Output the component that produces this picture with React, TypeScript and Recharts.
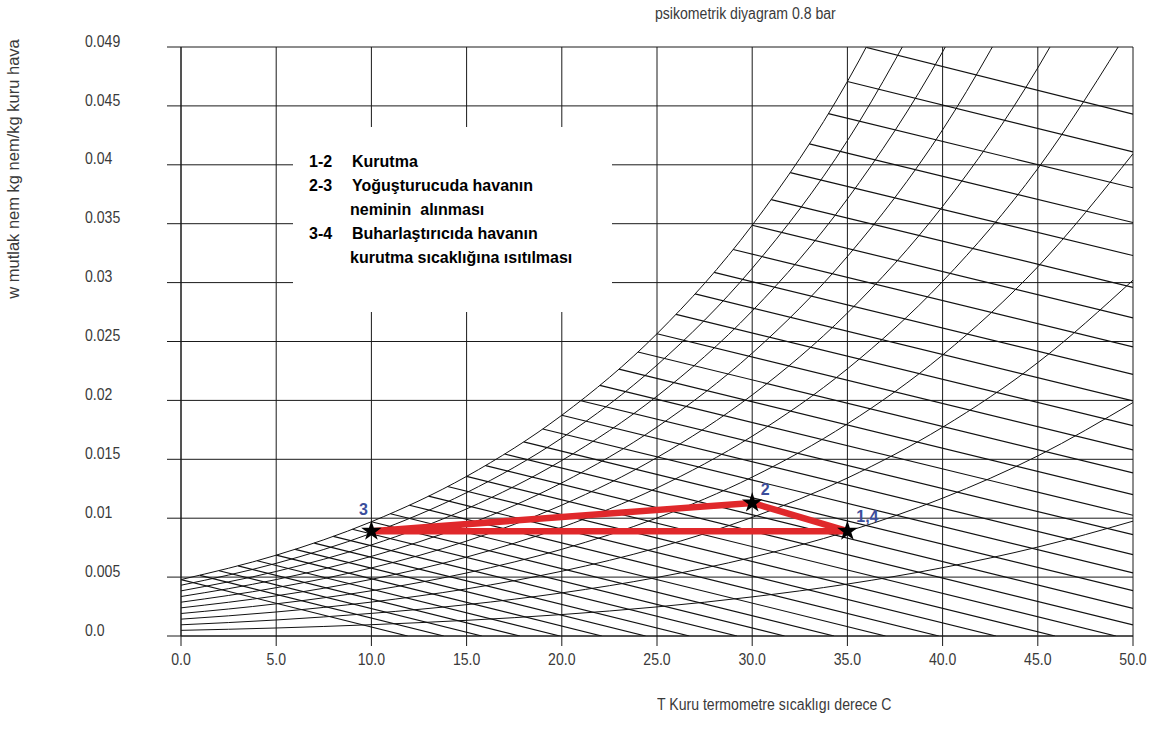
import {
  ComposedChart,
  Line,
  Scatter,
  XAxis,
  YAxis,
  CartesianGrid,
  Symbols,
} from 'recharts';

// axes
const tempTicks = [0, 5, 10, 15, 20, 25, 30, 35, 40, 45, 50];
const tempTickLabels = ['0.0', '5.0', '10.0', '15.0', '20.0', '25.0', '30.0', '35.0', '40.0', '45.0', '50.0'];
const wTicks = [0, 0.005, 0.01, 0.015, 0.02, 0.025, 0.03, 0.035, 0.04, 0.045, 0.05];
const wTickLabels = ['0.0', '0.005', '0.01', '0.015', '0.02', '0.025', '0.03', '0.035', '0.04', '0.045', '0.049'];

// relative humidity curves (100% .. 10%), w read at tempTicks
const rh100 = [0.00479, 0.00686, 0.0097, 0.01355, 0.01874, 0.02566, 0.03487, 0.04707, 0.06325];
const rh90 = [0.00431, 0.00617, 0.00872, 0.01217, 0.01681, 0.023, 0.03121, 0.04205, 0.05635];
const rh80 = [0.00383, 0.00548, 0.00773, 0.01079, 0.0149, 0.02036, 0.02759, 0.0371, 0.04959, 0.06601];
const rh70 = [0.00335, 0.00479, 0.00676, 0.00942, 0.013, 0.01774, 0.02401, 0.03222, 0.04297, 0.057];
const rh60 = [0.00287, 0.0041, 0.00578, 0.00806, 0.01111, 0.01515, 0.02046, 0.02742, 0.03647, 0.04823, 0.0635];
const rh50 = [0.00239, 0.00341, 0.00481, 0.0067, 0.00923, 0.01257, 0.01696, 0.02268, 0.0301, 0.03968, 0.05203];
const rh40 = [0.00191, 0.00273, 0.00384, 0.00535, 0.00736, 0.01002, 0.01349, 0.01801, 0.02385, 0.03134, 0.04094];
const rh30 = [0.00143, 0.00204, 0.00288, 0.004, 0.0055, 0.00748, 0.01007, 0.01341, 0.01772, 0.02321, 0.03021];
const rh20 = [0.00095, 0.00136, 0.00192, 0.00266, 0.00366, 0.00497, 0.00668, 0.00888, 0.0117, 0.01529, 0.01982];
const rh10 = [0.00048, 0.00068, 0.00096, 0.00133, 0.00182, 0.00247, 0.00332, 0.00441, 0.0058, 0.00755, 0.00975];
const rhCurves = [rh100, rh90, rh80, rh70, rh60, rh50, rh40, rh30, rh20, rh10];

// sloping lines: start on saturation curve, end at w = 0 or at 50 C
const satT = [0, 1, 2, 3, 4, 5, 6, 7, 8, 9, 10, 11, 12, 13, 14, 15, 16, 17, 18, 19, 20, 21, 22, 23, 24, 25, 26, 27, 28, 29, 30, 31, 32, 33, 34, 35, 36];
const satW = [
  0.00479, 0.00515, 0.00554, 0.00595, 0.00639, 0.00686, 0.00736, 0.00789, 0.00846, 0.00906,
  0.0097, 0.01038, 0.0111, 0.01187, 0.01269, 0.01355, 0.01447, 0.01545, 0.01648, 0.01757,
  0.01874, 0.01997, 0.02127, 0.02265, 0.02411, 0.02566, 0.0273, 0.02904, 0.03087, 0.03281,
  0.03487, 0.03704, 0.03934, 0.04178, 0.04435, 0.04707, 0.04996,
];
const endT = [
  11.9, 13.8, 15.8, 17.8, 19.9, 22.1, 24.4, 26.7, 29.2, 31.7, 34.3, 37.0, 39.8, 42.8, 45.9, 49.1,
  50, 50, 50, 50, 50, 50, 50, 50, 50, 50, 50, 50, 50, 50, 50, 50, 50, 50, 50, 50, 50,
];
const endW = [
  0, 0, 0, 0, 0, 0, 0, 0, 0, 0, 0, 0, 0, 0, 0, 0,
  0.00095, 0.00235, 0.00385, 0.00535, 0.0069, 0.0086, 0.01025, 0.012, 0.01385, 0.0158,
  0.01785, 0.01995, 0.0222, 0.02455, 0.027, 0.0296, 0.0323, 0.0351, 0.03805, 0.0411, 0.0443,
];

// drying process 1 -> 2 -> 3 -> 4
const processLabels = ['1', '2', '3', '4'];
const processT = [35, 30, 10, 35];
const processW = [0.0089, 0.0113, 0.0089, 0.0089];
const pointLabels = ['1,4', '2', '3'];
const pointT = [35, 30, 10];
const pointW = [0.0089, 0.0113, 0.0089];

const rhSeries = rhCurves.map((vals) => vals.map((w, i) => ({ t: tempTicks[i], w })));
const slopeSeries = satT.map((t, i) => [
  { t, w: satW[i] },
  { t: endT[i], w: endW[i] },
]);
const processData = processLabels.map((p, i) => ({ p, t: processT[i], w: processW[i] }));
const pointData = pointLabels.map((label, i) => ({ label, t: pointT[i], w: pointW[i] }));

const labelOffset: Record<string, [number, number]> = {
  '3': [-8, -22],
  '2': [13, -13],
  '1,4': [20, -15],
};

const sans = "'Liberation Sans', Arial, sans-serif";
const squeeze = 0.88;

const YTick = (props: any) => {
  const { y, payload } = props;
  const i = wTicks.indexOf(payload.value);
  return (
    <text
      transform={`translate(85,${y - 6}) scale(${squeeze},1)`}
      dy="0.35em"
      textAnchor="start"
      fontFamily={sans}
      fontSize={16}
      fill="#3a3a3a"
    >
      {wTickLabels[i]}
    </text>
  );
};

const XTick = (props: any) => {
  const { x, payload } = props;
  const i = tempTicks.indexOf(payload.value);
  return (
    <text
      transform={`translate(${x},665) scale(${squeeze},1)`}
      textAnchor="middle"
      fontFamily={sans}
      fontSize={16}
      fill="#3a3a3a"
    >
      {tempTickLabels[i]}
    </text>
  );
};

const StarPoint = (props: any) => {
  const { cx, cy, payload } = props;
  const [dx, dy] = labelOffset[payload.label];
  return (
    <g>
      <Symbols cx={cx} cy={cy} type="star" size={130} fill="#000" />
      <text
        x={cx + dx}
        y={cy + dy}
        dy="0.35em"
        textAnchor="middle"
        fontFamily={sans}
        fontWeight="bold"
        fontSize={16}
        fill="#3b4e9c"
      >
        {payload.label}
      </text>
    </g>
  );
};

const boxLines = [
  { num: '1-2', text: 'Kurutma', y: 162 },
  { num: '2-3', text: 'Yoğuşturucuda havanın', y: 186 },
  { num: '', text: 'neminin  alınması', y: 210 },
  { num: '3-4', text: 'Buharlaştırıcıda havanın', y: 234 },
  { num: '', text: 'kurutma sıcaklığına ısıtılması', y: 258 },
];

const squeezed = {
  position: 'absolute' as const,
  fontFamily: sans,
  fontSize: 16,
  color: '#3a3a3a',
  whiteSpace: 'nowrap' as const,
  transform: `scaleX(${squeeze})`,
  transformOrigin: 'left center',
};

const PsychroChart = () => {
  return (
    <div style={{ position: 'absolute', left: 0, top: 0, width: 1168, height: 736, background: '#fff' }}>
      <ComposedChart width={1168} height={736} margin={{ top: 47, right: 35, left: 0, bottom: 40 }}>
        <CartesianGrid stroke="#1a1a1a" strokeOpacity={1} />
        <XAxis
          type="number"
          dataKey="t"
          domain={[0, 50]}
          ticks={tempTicks}
          allowDataOverflow
          height={60}
          tickSize={10}
          tickLine={{ stroke: '#1a1a1a' }}
          axisLine={{ stroke: '#1a1a1a' }}
          tick={<XTick />}
        />
        <YAxis
          type="number"
          dataKey="w"
          domain={[0, 0.05]}
          ticks={wTicks}
          allowDataOverflow
          width={181}
          tickSize={14}
          tickLine={{ stroke: '#1a1a1a' }}
          axisLine={{ stroke: '#1a1a1a' }}
          tick={<YTick />}
        />
        {rhSeries.map((d, i) => (
          <Line
            key={'rh' + i}
            data={d}
            dataKey="w"
            type="monotone"
            stroke="#111"
            strokeWidth={1}
            dot={false}
            activeDot={false}
            isAnimationActive={false}
          />
        ))}
        {slopeSeries.map((d, i) => (
          <Line
            key={'h' + i}
            data={d}
            dataKey="w"
            type="linear"
            stroke="#111"
            strokeWidth={1.2}
            dot={false}
            activeDot={false}
            isAnimationActive={false}
          />
        ))}
        <Line
          data={processData}
          dataKey="w"
          type="linear"
          stroke="#e0282b"
          strokeWidth={6.5}
          strokeLinejoin="round"
          dot={false}
          activeDot={false}
          isAnimationActive={false}
        />
        <Scatter data={pointData} dataKey="w" shape={<StarPoint />} isAnimationActive={false} />
      </ComposedChart>

      {/* legend box over the grid */}
      <div
        style={{
          position: 'absolute',
          left: 293,
          top: 127,
          width: 319,
          height: 185,
          background: '#fff',
        }}
      />
      {boxLines.map((l) => (
        <div
          key={l.text}
          style={{
            position: 'absolute',
            top: l.y - 12,
            left: 0,
            height: 24,
            lineHeight: '24px',
            fontFamily: sans,
            fontWeight: 'bold',
            fontSize: 16,
            color: '#000',
            whiteSpace: 'pre',
          }}
        >
          <span style={{ position: 'absolute', left: 309 }}>{l.num}</span>
          <span style={{ position: 'absolute', left: l.num ? 352 : 350 }}>{l.text}</span>
        </div>
      ))}

      <div style={{ ...squeezed, left: 655, top: 5 }}>psikometrik diyagram 0.8 bar</div>
      <div style={{ ...squeezed, left: 657, top: 696 }}>T Kuru termometre sıcaklıgı derece C</div>
      <div
        style={{
          position: 'absolute',
          left: 13,
          top: 169,
          transform: 'translate(-50%, -50%) rotate(-90deg)',
          fontFamily: sans,
          fontSize: 16.5,
          color: '#3a3a3a',
          whiteSpace: 'nowrap',
        }}
      >
        w mutlak nem kg nem/kg kuru hava
      </div>
    </div>
  );
};

export default function App() {
  return <PsychroChart />;
}
